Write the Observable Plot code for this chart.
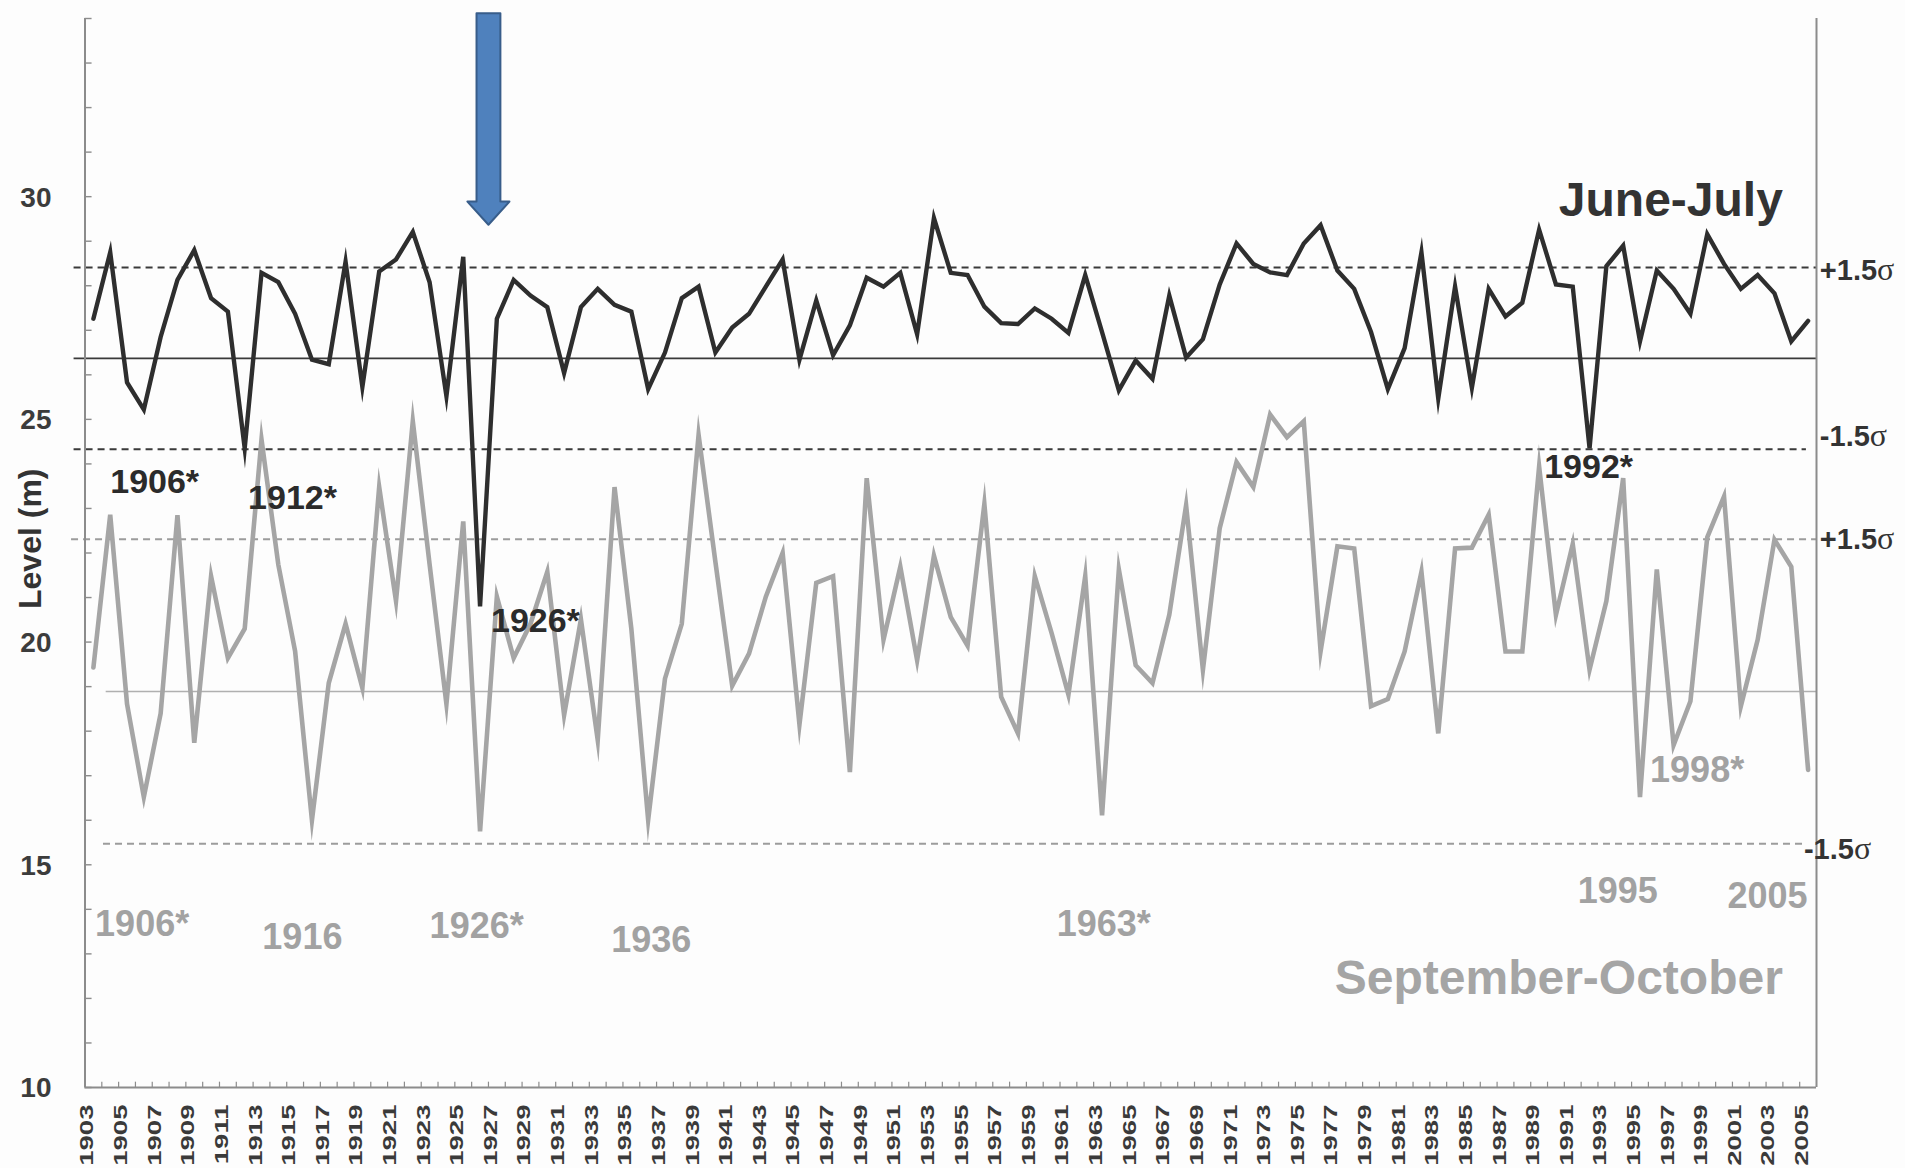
<!DOCTYPE html>
<html>
<head>
<meta charset="utf-8">
<script src="https://cdn.jsdelivr.net/npm/d3@7"></script>
<script src="https://cdn.jsdelivr.net/npm/@observablehq/plot@0.6"></script>
<style>
  html, body { margin: 0; padding: 0; background: #fdfdfd; }
  #chart svg { display: block; background: #fdfdfd; }
</style>
</head>
<body>
<div id="chart"></div>
<script>
// ---- data -------------------------------------------------------------
const firstYear = 1903;

// June-July level (m), 1903..2005
const juneJuly = [
  27.26, 28.75, 25.83, 25.22, 26.85, 28.13, 28.80, 27.72, 27.42, 24.35,
  28.29, 28.08, 27.37, 26.34, 26.24, 28.54, 25.73, 28.32, 28.59, 29.21,
  28.08, 25.52, 28.65, 20.80, 27.26, 28.13, 27.78, 27.52, 26.04, 27.52,
  27.93, 27.57, 27.42, 25.68, 26.50, 27.72, 27.98, 26.50, 27.06, 27.37,
  27.98, 28.59, 26.34, 27.67, 26.44, 27.11, 28.18, 27.98, 28.29, 26.91,
  29.52, 28.29, 28.24, 27.53, 27.16, 27.14, 27.49, 27.26, 26.94, 28.24,
  26.96, 25.65, 26.32, 25.91, 27.78, 26.39, 26.80, 28.03, 28.95, 28.49,
  28.30, 28.24, 28.95, 29.36, 28.34, 27.93, 26.96, 25.68, 26.60, 28.75,
  25.47, 27.98, 25.71, 27.93, 27.31, 27.62, 29.26, 28.03, 27.98, 24.35,
  28.44, 28.90, 26.75, 28.34, 27.93, 27.37, 29.16, 28.49, 27.93, 28.24,
  27.83, 26.75, 27.21
];

// September-October level (m), 1903..2005
const septOct = [
  19.43, 22.86, 18.61, 16.52, 18.40, 22.85, 17.74, 21.48, 19.64, 20.30,
  24.55, 21.74, 19.79, 16.00, 19.08, 20.41, 18.97, 23.48, 20.92, 24.96,
  21.74, 18.61, 22.71, 15.75, 21.02, 19.64, 20.41, 21.58, 18.36, 20.51,
  17.80, 23.48, 20.30, 16.01, 19.18, 20.41, 24.65, 21.80, 19.02, 19.74,
  21.02, 22.00, 18.15, 21.33, 21.48, 17.08, 23.68, 20.05, 21.69, 19.59,
  21.94, 20.56, 19.92, 23.10, 18.77, 17.95, 21.48, 20.20, 18.82, 21.48,
  16.11, 21.63, 19.48, 19.08, 20.61, 23.07, 19.38, 22.56, 24.04, 23.48,
  25.11, 24.60, 24.96, 19.79, 22.15, 22.10, 18.56, 18.72, 19.79, 21.58,
  17.95, 22.10, 22.12, 22.86, 19.79, 19.79, 23.94, 20.61, 22.20, 19.38,
  20.92, 23.68, 16.52, 21.63, 17.69, 18.67, 22.35, 23.27, 18.56, 20.05,
  22.30, 21.69, 17.13
];

const years = juneJuly.map((_, i) => firstYear + i);
const yTickLabels = [10, 15, 20, 25, 30];
const yMinorTicks = d3.range(10, 35, 1);
const xTickLabels = years.filter(y => y % 2 === 1);
const xTickMarks = years.slice(0, -1).map(y => y + 0.5);

// statistics (mean and standard deviation) of each series
const jjMean = 26.37, jjSigma = 1.36;
const soMean = 18.89, soSigma = 2.28;

// annotations (in data coordinates)
const jjEvents = [
  {label: "1906*", year: 1904.0, level: 23.59},
  {label: "1912*", year: 1912.2, level: 23.24},
  {label: "1926*", year: 1926.65, level: 20.46},
  {label: "1992*", year: 1989.3, level: 23.93}
];
const soEvents = [
  {label: "1906*", year: 1903.1, level: 13.67},
  {label: "1916", year: 1913.05, level: 13.36},
  {label: "1926*", year: 1923.0, level: 13.61},
  {label: "1936", year: 1933.8, level: 13.31},
  {label: "1963*", year: 1960.3, level: 13.67},
  {label: "1995", year: 1991.3, level: 14.39},
  {label: "2005", year: 2000.2, level: 14.30},
  {label: "1998*", year: 1995.6, level: 17.12}
];
const seriesNames = [
  {label: "June-July", year: 2003.5, level: 29.91, series: "jj"},
  {label: "September-October", year: 2003.5, level: 12.44, series: "so"}
];
const sigmaLabels = [
  {label: "+1.5σ", year: 2005.7, level: 28.34},
  {label: "-1.5σ", year: 2005.7, level: 24.60},
  {label: "+1.5σ", year: 2005.7, level: 22.30},
  {label: "-1.5σ", year: 2004.75, level: 15.33}
];
// reference lines: level, extent, style
const refLines = [
  {level: jjMean + 1.5 * jjSigma, x1: 1901.85, x2: 2005.5, kind: "jjDash"},
  {level: jjMean,                 x1: 1901.85, x2: 2005.5, kind: "jjMean"},
  {level: jjMean - 1.5 * jjSigma, x1: 1901.85, x2: 2004.9, kind: "jjDash"},
  {level: soMean + 1.5 * soSigma, x1: 1901.7,  x2: 2005.5, kind: "soDash"},
  {level: soMean,                 x1: 1903.76, x2: 2005.5, kind: "soMean"},
  {level: soMean - 1.5 * soSigma, x1: 1903.6,  x2: 2004.7, kind: "soDash"}
];
// blue arrow pointing at 1926
const arrowYear = 1926.5, arrowTop = 34.12, arrowHeadTop = 29.89, arrowTip = 29.37;
const arrowShaftHalf = 0.71, arrowHeadHalf = 1.25;
const arrowOutline = [
  [arrowYear - arrowShaftHalf, arrowTop],
  [arrowYear + arrowShaftHalf, arrowTop],
  [arrowYear + arrowShaftHalf, arrowHeadTop],
  [arrowYear + arrowHeadHalf, arrowHeadTop],
  [arrowYear, arrowTip],
  [arrowYear - arrowHeadHalf, arrowHeadTop],
  [arrowYear - arrowShaftHalf, arrowHeadTop],
  [arrowYear - arrowShaftHalf, arrowTop]
];

// ---- chart ------------------------------------------------------------
const jjData = years.map((y, i) => ({year: y, level: juneJuly[i]}));
const soData = years.map((y, i) => ({year: y, level: septOct[i]}));

const font = "'Liberation Sans', Arial, sans-serif";
const axisColor = "#8c8c8c";
const xMin = 1902.5, xMax = 2005.5, yMin = 10, yMax = 34;

const refStyle = {
  jjDash: {stroke: "#3a3a3a", strokeWidth: 2, dash: "7,5"},
  jjMean: {stroke: "#3a3a3a", strokeWidth: 1.6, dash: null},
  soDash: {stroke: "#9c9c9c", strokeWidth: 2, dash: "7,5"},
  soMean: {stroke: "#b0b0b0", strokeWidth: 1.6, dash: null}
};
const refMarks = Object.keys(refStyle).map(k => Plot.ruleY(refLines.filter(d => d.kind === k), {
  y: "level", x1: "x1", x2: "x2",
  stroke: refStyle[k].stroke, strokeWidth: refStyle[k].strokeWidth,
  strokeDasharray: refStyle[k].dash
}));

const svg = Plot.plot({
  width: 1905,
  height: 1168,
  marginLeft: 84.5,
  marginRight: 89,
  marginTop: 18,
  marginBottom: 81,
  style: {fontFamily: font, background: "#fdfdfd", overflow: "visible"},
  x: {domain: [xMin, xMax], axis: null},
  y: {domain: [yMin, yMax], axis: null},
  marks: [
    ...refMarks,
    // axes
    Plot.ruleX([xMin, xMax], {y1: yMin, y2: yMax, stroke: axisColor, strokeWidth: 2}),
    Plot.ruleY([yMin], {x1: xMin, x2: xMax, stroke: axisColor, strokeWidth: 2}),
    Plot.ruleY(yMinorTicks, {x1: xMin, x2: xMin + 0.42, stroke: axisColor, strokeWidth: 1.4}),
    Plot.ruleX(xTickMarks, {y1: yMin, y2: yMin + 0.12, stroke: axisColor, strokeWidth: 1.2}),
    Plot.text(yTickLabels, {
      y: d => d, frameAnchor: "left", dx: -33.5, dy: 1, text: d => String(d),
      textAnchor: "end", fontSize: 28, fontWeight: "bold", fill: "#3c3c3c"
    }),
    Plot.text(xTickLabels, {
      x: d => d, frameAnchor: "bottom", dy: 17, text: d => String(d),
      rotate: -90, textAnchor: "end", lineAnchor: "bottom",
      fontSize: 19, fontWeight: "bold", fill: "#3a3a3a", ariaDescription: "x-labels"
    }),
    Plot.text(["Level (m)"], {
      frameAnchor: "left", y: [22.32], dx: -54, rotate: -90, textAnchor: "middle",
      fontSize: 32, fontWeight: "bold", fill: "#333333"
    }),
    // series
    Plot.line(soData, {x: "year", y: "level", stroke: "#a5a5a5", strokeWidth: 4.6, strokeLinejoin: "miter", strokeMiterlimit: 10}),
    Plot.line(jjData, {x: "year", y: "level", stroke: "#2e2e2e", strokeWidth: 4.4, strokeLinejoin: "miter", strokeMiterlimit: 10}),
    // annotations
    Plot.text(jjEvents, {x: "year", y: "level", text: "label", textAnchor: "start",
      fontSize: 34, fontWeight: "bold", fill: "#2b2b2b"}),
    Plot.text(soEvents, {x: "year", y: "level", text: "label", textAnchor: "start",
      fontSize: 36, fontWeight: "bold", fill: "#a2a2a2"}),
    Plot.text(seriesNames, {x: "year", y: "level", text: "label", textAnchor: "end",
      fontSize: 48, fontWeight: "bold", fill: d => d.series === "jj" ? "#333333" : "#a5a5a5"}),
    Plot.text(sigmaLabels, {x: "year", y: "level", text: "label", textAnchor: "start",
      fontSize: 29, fontWeight: "bold", fill: "#333333", ariaDescription: "sigma-labels"}),
    Plot.line(arrowOutline, {x: d => d[0], y: d => d[1], fill: "#4f81bd", stroke: "#385d8a", strokeWidth: 2})
  ]
});

// stretch rotated year labels along their reading direction (as in the original)
d3.select(svg).selectAll('g[aria-description="x-labels"] text, g[font-size="19"] text').attr("transform", function () {
  const t = this.getAttribute("transform") || "";
  return t.includes("scale") ? t : t + " scale(1.45,1)";
});
// sigma in serif as in the original
d3.select(svg).selectAll('g[aria-description="sigma-labels"] text, g[font-size="29"] text').each(function () {
  if (this.querySelector("tspan")) return;
  const t = this.textContent;
  if (!t.includes("σ")) return;
  this.textContent = t.replace("σ", "");
  d3.select(this).append("tspan")
    .attr("font-family", "'Liberation Serif', 'DejaVu Serif', serif")
    .attr("font-weight", "normal")
    .attr("font-size", "32")
    .text("σ");
});

document.getElementById("chart").appendChild(svg);
</script>
</body>
</html>
